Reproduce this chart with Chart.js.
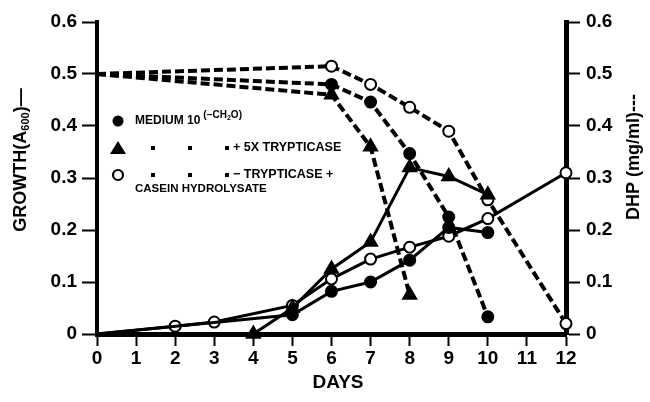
<!DOCTYPE html>
<html><head><meta charset="utf-8">
<script src="https://cdn.jsdelivr.net/npm/chart.js@4/dist/chart.umd.min.js"></script>
<style>html,body{margin:0;padding:0;background:#fff}#wrap{width:650px;height:402px}</style>
</head><body><div id="wrap"><canvas id="c" width="650" height="402"></canvas></div>
<script>
// ---- data ----
const xTicks = [0,1,2,3,4,5,6,7,8,9,10,11,12];
const yTicks = [0,0.1,0.2,0.3,0.4,0.5,0.6];

const growthMediumDays = [0,5,6,7,8,9,10];
const growthMedium     = [0,0.037,0.082,0.100,0.142,0.205,0.195];
const growthTrypDays   = [4,5,6,7,8,9,10];
const growthTryp       = [0,0.050,0.125,0.177,0.320,0.303,0.268];
const growthCaseinDays = [0,2,3,5,6,7,8,9,10,12];
const growthCasein     = [0,0.015,0.023,0.055,0.106,0.144,0.167,0.188,0.222,0.310];

const dhpMediumDays = [0,6,7,8,9,10];
const dhpMedium     = [0.5,0.480,0.446,0.347,0.225,0.033];
const dhpTrypDays   = [0,6,7,8];
const dhpTryp       = [0.5,0.460,0.360,0.075];
const dhpCaseinDays = [0,6,7,8,9,10,12];
const dhpCasein     = [0.5,0.515,0.480,0.436,0.390,0.258,0.020];

const FONT = "'Liberation Sans', Arial, sans-serif";
const pts = (xs, ys) => xs.map((d,i)=>({x:d,y:ys[i]}));
const radii = (xs, r) => xs.map(d => d===0 ? 0 : r);

function ds(xs, ys, axis, style, dashed){
  const base = {
    data: pts(xs, ys), yAxisID: axis, borderColor:'#000', borderWidth: dashed?4:3,
    borderDash: dashed?[9,4]:[], tension:0, clip:false,
    pointBorderColor:'#000', pointBorderWidth:2, pointHoverRadius:0
  };
  if(style==='circle'){ base.pointStyle='circle'; base.pointRadius=radii(xs,5.5); base.pointBackgroundColor='#000'; }
  if(style==='open'){ base.pointStyle='circle'; base.pointRadius=radii(xs,5.5); base.pointBackgroundColor='#fff'; }
  if(style==='tri'){ base.pointStyle='triangle'; base.pointRadius=radii(xs,7.5); base.pointBackgroundColor='#000'; }
  return base;
}

const overlay = {
  id:'overlay',
  afterDraw(chart){
    const c = chart.ctx;
    c.save();
    c.fillStyle='#000'; c.strokeStyle='#000';
    // axis titles
    c.font = "bold 19px "+FONT; c.textAlign='center'; c.textBaseline='middle';
    c.fillText('DAYS', 338, 383);
    c.save(); c.translate(21,160); c.rotate(-Math.PI/2);
    c.font="bold 18px "+FONT; c.textAlign='left';
    let t1='GROWTH(A'; let w1=c.measureText(t1).width;
    c.font="bold 11px "+FONT; let w2=c.measureText('600').width;
    c.font="bold 18px "+FONT; let w3=c.measureText(')—').width;
    let start=-(w1+w2+w3)/2;
    c.fillText(t1,start,0);
    c.font="bold 11px "+FONT; c.fillText('600',start+w1,5);
    c.font="bold 18px "+FONT; c.fillText(')—',start+w1+w2,0);
    c.restore();
    c.save(); c.translate(634,157); c.rotate(-Math.PI/2);
    c.font="bold 18px "+FONT; c.textAlign='center';
    c.fillText('DHP (mg/ml)---',0,0);
    c.restore();
    // legend
    c.textAlign='left'; c.textBaseline='middle';
    c.beginPath(); c.arc(118,121,5.5,0,Math.PI*2); c.fill();
    c.font="bold 12px "+FONT;
    c.fillText('MEDIUM 10',135,121);
    let mw=c.measureText('MEDIUM 10').width;
    c.font="bold 10px "+FONT;
    let sx=135+mw+3;
    c.fillText('(−CH',sx,115); sx+=c.measureText('(−CH').width;
    c.font="bold 7px "+FONT; c.fillText('2',sx,118); sx+=c.measureText('2').width;
    c.font="bold 10px "+FONT; c.fillText('O)',sx,115);
    // triangle
    c.beginPath(); c.moveTo(118,141); c.lineTo(126,154); c.lineTo(110,154); c.closePath(); c.fill();
    c.font="bold 12.5px "+FONT;
    [153,190,227].forEach(x=>{c.fillRect(x-2,146,4,4);});
    c.fillText('+ 5X TRYPTICASE',233,148);
    // open circle
    c.lineWidth=2.2; c.beginPath(); c.arc(118,175,5,0,Math.PI*2); c.stroke();
    [153,190,227].forEach(x=>{c.fillRect(x-2,173,4,4);});
    c.fillText('− TRYPTICASE +',233,175);
    c.font="bold 11.5px "+FONT;
    c.fillText('CASEIN HYDROLYSATE',135,189);
    c.restore();
  }
};

new Chart(document.getElementById('c'), {
  type:'line',
  data:{ datasets:[
    ds(growthMediumDays, growthMedium, 'y', 'circle', false),
    ds(growthTrypDays, growthTryp, 'y', 'tri', false),
    ds(growthCaseinDays, growthCasein, 'y', 'open', false),
    ds(dhpMediumDays, dhpMedium, 'y2', 'circle', true),
    ds(dhpTrypDays, dhpTryp, 'y2', 'tri', true),
    ds(dhpCaseinDays, dhpCasein, 'y2', 'open', true)
  ]},
  options:{
    responsive:false, animation:false, devicePixelRatio:1,
    layout:{padding:{top:22,left:0,right:0,bottom:0}},
    plugins:{legend:{display:false}, tooltip:{enabled:false}},
    scales:{
      x:{ type:'linear', min:0, max:12, afterFit(s){s.height=68;},
        afterBuildTicks(s){ s.ticks = xTicks.map(v=>({value:v})); },
        grid:{drawOnChartArea:false, tickLength:12, tickWidth:2, color:'#000'},
        border:{color:'#000', width:5},
        ticks:{color:'#000', font:{family:FONT, weight:'bold', size:19}, padding:1}
      },
      y:{ type:'linear', position:'left', min:0, max:0.6, afterFit(s){s.width=97;},
        afterBuildTicks(s){ s.ticks = yTicks.map(v=>({value:v})); },
        grid:{drawOnChartArea:false, tickLength:15, tickWidth:2, color:'#000'},
        border:{color:'#000', width:4},
        ticks:{color:'#000', font:{family:FONT, weight:'bold', size:19}, padding:5,
          callback:v=> v===0?'0':v.toFixed(1)}
      },
      y2:{ type:'linear', position:'right', min:0, max:0.6, afterFit(s){s.width=84;},
        afterBuildTicks(s){ s.ticks = yTicks.map(v=>({value:v})); },
        grid:{drawOnChartArea:false, tickLength:14, tickWidth:2, color:'#000'},
        border:{color:'#000', width:5},
        ticks:{color:'#000', font:{family:FONT, weight:'bold', size:19}, padding:6,
          callback:v=> v===0?'0':v.toFixed(1)}
      }
    }
  },
  plugins:[overlay]
});
</script>
</body></html>
